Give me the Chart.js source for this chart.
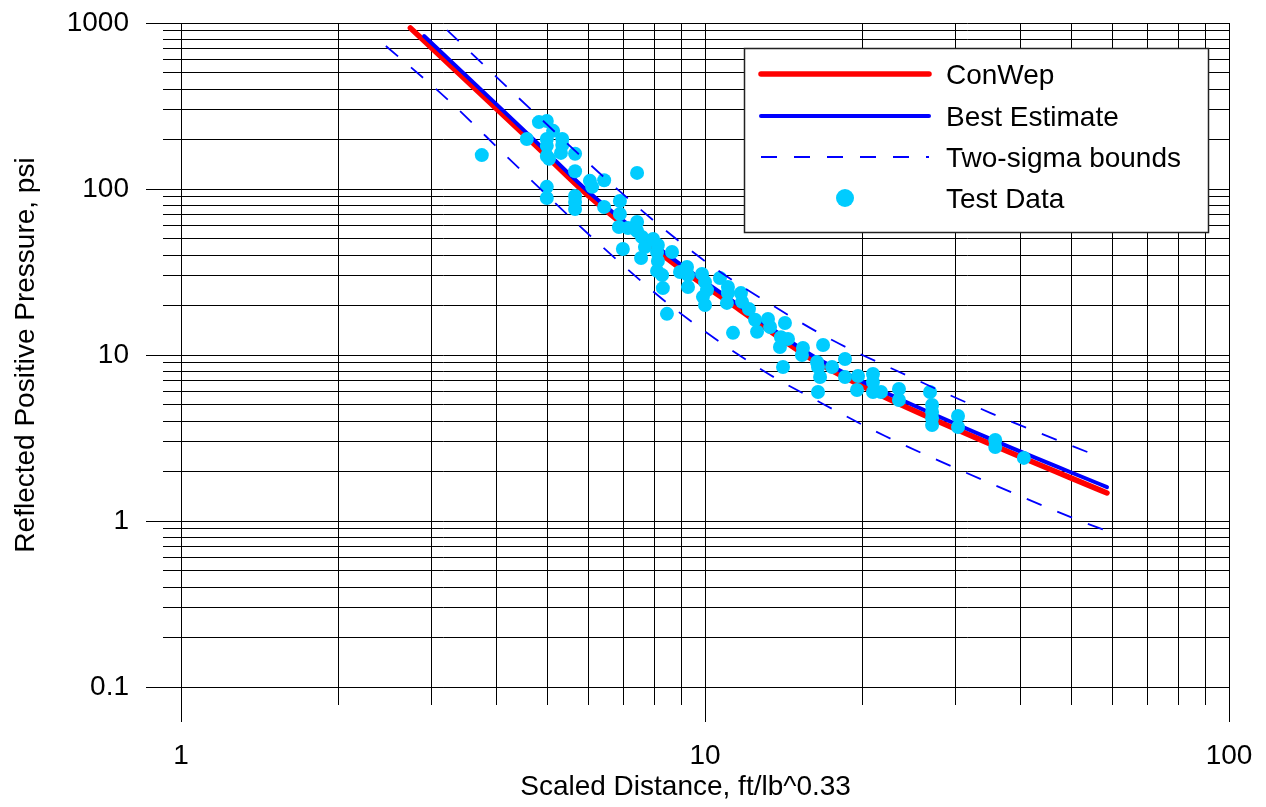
<!DOCTYPE html>
<html>
<head>
<meta charset="utf-8">
<script src="https://cdn.jsdelivr.net/npm/chart.js@4/dist/chart.umd.min.js"></script>
<style>
html,body{margin:0;padding:0;background:#fff;}
#wrap{width:1266px;height:807px;position:relative;}
</style>
</head>
<body>
<div id="wrap"><canvas id="c" width="1266" height="807"></canvas></div>
<script>
// ---- tick labels ----
const xTickLabels = ['1', '10', '100'];
const yTickLabels = ['0.1', '1', '10', '100', '1000'];
const xMin = 1, xMax = 100, yMin = 0.1, yMax = 1000;

// ---- series ----
const conwepX = [2.74, 4.74, 6.03, 8.69, 11.66, 16.07, 21.6, 35.4, 58.5];
const conwepY = [933, 184, 89.5, 35.8, 18.7, 9.33, 5.74, 2.87, 1.475];

const bestX = [2.91, 4.74, 6.03, 8.69, 11.66, 16.07, 21.6, 35.4, 58.5];
const bestY = [835, 195, 94.6, 37.9, 19.7, 9.86, 6.15, 3.08, 1.60];

const upperX = [3.22, 4.62, 6.47, 8.17, 10.36, 13.42, 17.48, 23.05, 35.1, 56.7];
const upperY = [907, 308, 115, 60.7, 33.9, 20.0, 12.3, 8.12, 4.47, 2.43];

const lowerX = [2.46, 3.19, 4.21, 5.55, 6.97, 8.80, 12.85, 16.80, 22.06, 29.2, 38.7, 51.5, 58.5];
const lowerY = [727, 358, 154, 66.9, 34.8, 18.7, 8.12, 5.07, 3.25, 2.17, 1.475, 1.014, 0.871];

const testX = [3.75, 4.57, 4.82, 4.99, 5.13, 4.99, 4.99, 4.99, 5.04, 5.34,
  5.34, 5.31, 5.65, 5.65, 6.03, 6.09, 6.42, 7.42, 4.99, 4.99,
  5.65, 5.65, 5.65, 6.42, 6.88, 6.88, 7.42, 6.85, 7.13, 7.42,
  7.58, 7.68, 6.97, 7.55, 7.96, 8.13, 8.10, 8.65, 8.13, 8.10,
  8.28, 8.31, 8.46, 8.96, 9.24, 9.28, 9.28, 9.87, 10.0, 10.09,
  9.91, 10.0, 10.68, 11.06, 11.06, 11.01, 11.71, 11.77, 12.13, 12.46,
  12.57, 13.19, 13.31, 11.31, 14.21, 13.96, 14.4, 13.9, 14.09, 15.38,
  15.31, 16.8, 16.36, 16.43, 16.58, 16.43, 17.48, 18.5, 18.5, 19.59,
  19.5, 20.92, 20.92, 20.92, 21.67, 23.45, 23.45, 26.88, 27.12, 27.12,
  27.12, 27.12, 30.4, 30.4, 35.8, 35.8, 40.6];
const testY = [160, 200, 253, 257, 224, 200, 182, 158, 152, 200,
  184, 165, 163, 128, 112, 103, 113, 125, 103, 88.3,
  90.7, 83.5, 75.8, 77.9, 84.7, 70.7, 63.3, 59.0, 58.2, 55.8,
  51.4, 44.7, 43.5, 38.4, 50.0, 46.0, 41.7, 41.7, 36.8, 32.1,
  30.3, 25.3, 17.7, 31.6, 33.9, 30.3, 25.7, 30.8, 27.5, 24.6,
  22.4, 20.0, 29.1, 25.7, 23.6, 20.6, 23.6, 20.9, 18.9, 16.3,
  13.8, 16.5, 14.75, 13.6, 15.6, 12.8, 12.5, 11.17, 8.47, 11.02,
  10.0, 11.49, 9.07, 8.47, 7.37, 5.99, 8.47, 9.46, 7.37, 7.47,
  6.16, 7.68, 6.88, 5.99, 5.99, 6.24, 5.36, 5.99, 5.0, 4.54,
  4.17, 3.79, 4.29, 3.68, 3.08, 2.79, 2.40];

const legendOrder = ['ConWep', 'Best Estimate', 'Two-sigma bounds', 'Test Data'];

// ---- helpers ----
function pts(xs, ys) { return xs.map((x, i) => ({x: x, y: ys[i]})); }
function logTicks(min, max) {
  const out = [];
  for (let e = Math.floor(Math.log10(min)); e <= Math.ceil(Math.log10(max)); e++) {
    for (let m = 1; m <= 9; m++) {
      const v = +(m * Math.pow(10, e)).toPrecision(6);
      if (v >= min * 0.9999 && v <= max * 1.0001) out.push({value: v});
    }
  }
  return out;
}
function labelFor(list) {
  return function (v) {
    const s = list.find(t => Math.abs(Number(t) - v) < 1e-6 * Math.max(1e-9, Math.abs(v)));
    return s === undefined ? '' : s;
  };
}
function align(p) { return Math.round(p + 0.5) - 0.5; }

const FONT = 'Liberation Sans, Arial, Helvetica, sans-serif';
Chart.defaults.font.family = FONT;
Chart.defaults.color = '#000';

// longer marks for the decade ticks
const majorTickPlugin = {
  id: 'majorTicks',
  beforeDatasetsDraw(chart) {
    const ctx = chart.ctx, ca = chart.chartArea;
    const xs = chart.scales.x, ys = chart.scales.y;
    ctx.save();
    ctx.strokeStyle = '#000';
    ctx.lineWidth = 1;
    ctx.beginPath();
    xTickLabels.forEach(t => {
      const p = align(xs.getPixelForValue(Number(t)));
      ctx.moveTo(p, ca.bottom); ctx.lineTo(p, ca.bottom + 35);
    });
    yTickLabels.forEach(t => {
      const p = align(ys.getPixelForValue(Number(t)));
      ctx.moveTo(ca.left - 35, p); ctx.lineTo(ca.left, p);
    });
    ctx.stroke();
    ctx.restore();
  }
};

// boxed legend inside the plot, top-right
const boxLegendPlugin = {
  id: 'boxLegend',
  afterDraw(chart) {
    const ctx = chart.ctx, ca = chart.chartArea;
    const w = 464, h = 184;
    const left = ca.right - 21 - w, top = ca.top + 25;
    ctx.save();
    ctx.fillStyle = '#fff';
    ctx.fillRect(left, top, w, h);
    ctx.strokeStyle = '#222';
    ctx.lineWidth = 1.5;
    ctx.strokeRect(left + 0.5, top + 0.5, w, h);
    const rowY = [26, 68, 109, 150];
    legendOrder.forEach((lbl, i) => {
      const ds = chart.data.datasets.find(d => d.label === lbl);
      const y = top + rowY[i];
      const x0 = left + 17, x1 = left + 185;
      if (ds.showLine) {
        ctx.save();
        ctx.strokeStyle = ds.borderColor;
        ctx.lineWidth = ds.borderWidth;
        ctx.lineCap = ds.borderDash && ds.borderDash.length ? 'butt' : 'round';
        ctx.setLineDash(ds.borderDash || []);
        ctx.beginPath();
        ctx.moveTo(x0, y); ctx.lineTo(x1, y);
        ctx.stroke();
        ctx.restore();
      } else {
        ctx.fillStyle = ds.backgroundColor;
        ctx.beginPath();
        ctx.arc((x0 + x1) / 2, y, 9, 0, Math.PI * 2);
        ctx.fill();
      }
      ctx.fillStyle = '#000';
      ctx.font = '28px ' + FONT;
      ctx.textBaseline = 'middle';
      ctx.textAlign = 'left';
      ctx.fillText(lbl, left + 202, y + 2);
    });
    ctx.restore();
  }
};

const lineBase = {showLine: true, pointRadius: 0, pointHoverRadius: 0, fill: false, cubicInterpolationMode: 'monotone'};

new Chart(document.getElementById('c'), {
  type: 'scatter',
  data: {
    datasets: [
      Object.assign({}, lineBase, {label: 'Two-sigma bounds', data: pts(upperX, upperY), borderColor: '#0000ff', borderWidth: 1.8, borderDash: [16, 17], order: -1}),
      Object.assign({}, lineBase, {label: 'Two-sigma bounds (lower)', data: pts(lowerX, lowerY), borderColor: '#0000ff', borderWidth: 1.8, borderDash: [16, 17], order: -1}),
      {label: 'Test Data', data: pts(testX, testY), showLine: false, pointRadius: 7, pointHoverRadius: 7,
        pointStyle: 'circle', backgroundColor: '#00ccff', borderColor: '#00ccff', pointBorderWidth: 0, borderWidth: 0, order: 0},
      Object.assign({}, lineBase, {label: 'Best Estimate', data: pts(bestX, bestY), borderColor: '#0000ff', borderWidth: 4, borderCapStyle: 'round', order: 2}),
      Object.assign({}, lineBase, {label: 'ConWep', data: pts(conwepX, conwepY), borderColor: '#ff0000', borderWidth: 5.5, borderCapStyle: 'round', order: 3})
    ]
  },
  options: {
    responsive: false,
    devicePixelRatio: 1,
    animation: false,
    events: [],
    layout: {padding: {left: 0, right: 37, top: 23, bottom: 0}},
    plugins: {legend: {display: false}, tooltip: {enabled: false}, title: {display: false}},
    scales: {
      x: {
        type: 'logarithmic', position: 'bottom', min: xMin, max: xMax,
        afterBuildTicks: s => { s.ticks = logTicks(xMin, xMax); },
        afterFit: s => { s.height = 120; s.paddingLeft = 0; s.paddingRight = 0; },
        grid: {color: '#000', lineWidth: 1, drawTicks: true, tickLength: 18, tickColor: '#000'},
        border: {display: true, color: '#000', width: 1},
        ticks: {callback: labelFor(xTickLabels), autoSkip: false, maxRotation: 0, minRotation: 0,
          padding: 34, color: '#000', font: {size: 28, family: FONT}},
        title: {display: true, text: 'Scaled Distance, ft/lb^0.33\u00a0\u00a0\u00a0\u00a0\u00a0', color: '#000',
          font: {size: 28, family: FONT}, padding: {top: 0, bottom: 3}}
      },
      y: {
        type: 'logarithmic', position: 'left', min: yMin, max: yMax,
        afterBuildTicks: s => { s.ticks = logTicks(yMin, yMax); },
        afterFit: s => { s.width = 181; s.paddingTop = 0; s.paddingBottom = 0; },
        grid: {color: '#000', lineWidth: 1, drawTicks: true, tickLength: 18, tickColor: '#000'},
        border: {display: true, color: '#000', width: 1},
        ticks: {callback: labelFor(yTickLabels), autoSkip: false, padding: 34, color: '#000',
          font: {size: 28, family: FONT}},
        title: {display: true, text: 'Reflected Positive Pressure, psi', color: '#000',
          font: {size: 28, family: FONT}, padding: {top: 9, bottom: 0}}
      }
    }
  },
  plugins: [majorTickPlugin, boxLegendPlugin]
});
</script>
</body>
</html>
